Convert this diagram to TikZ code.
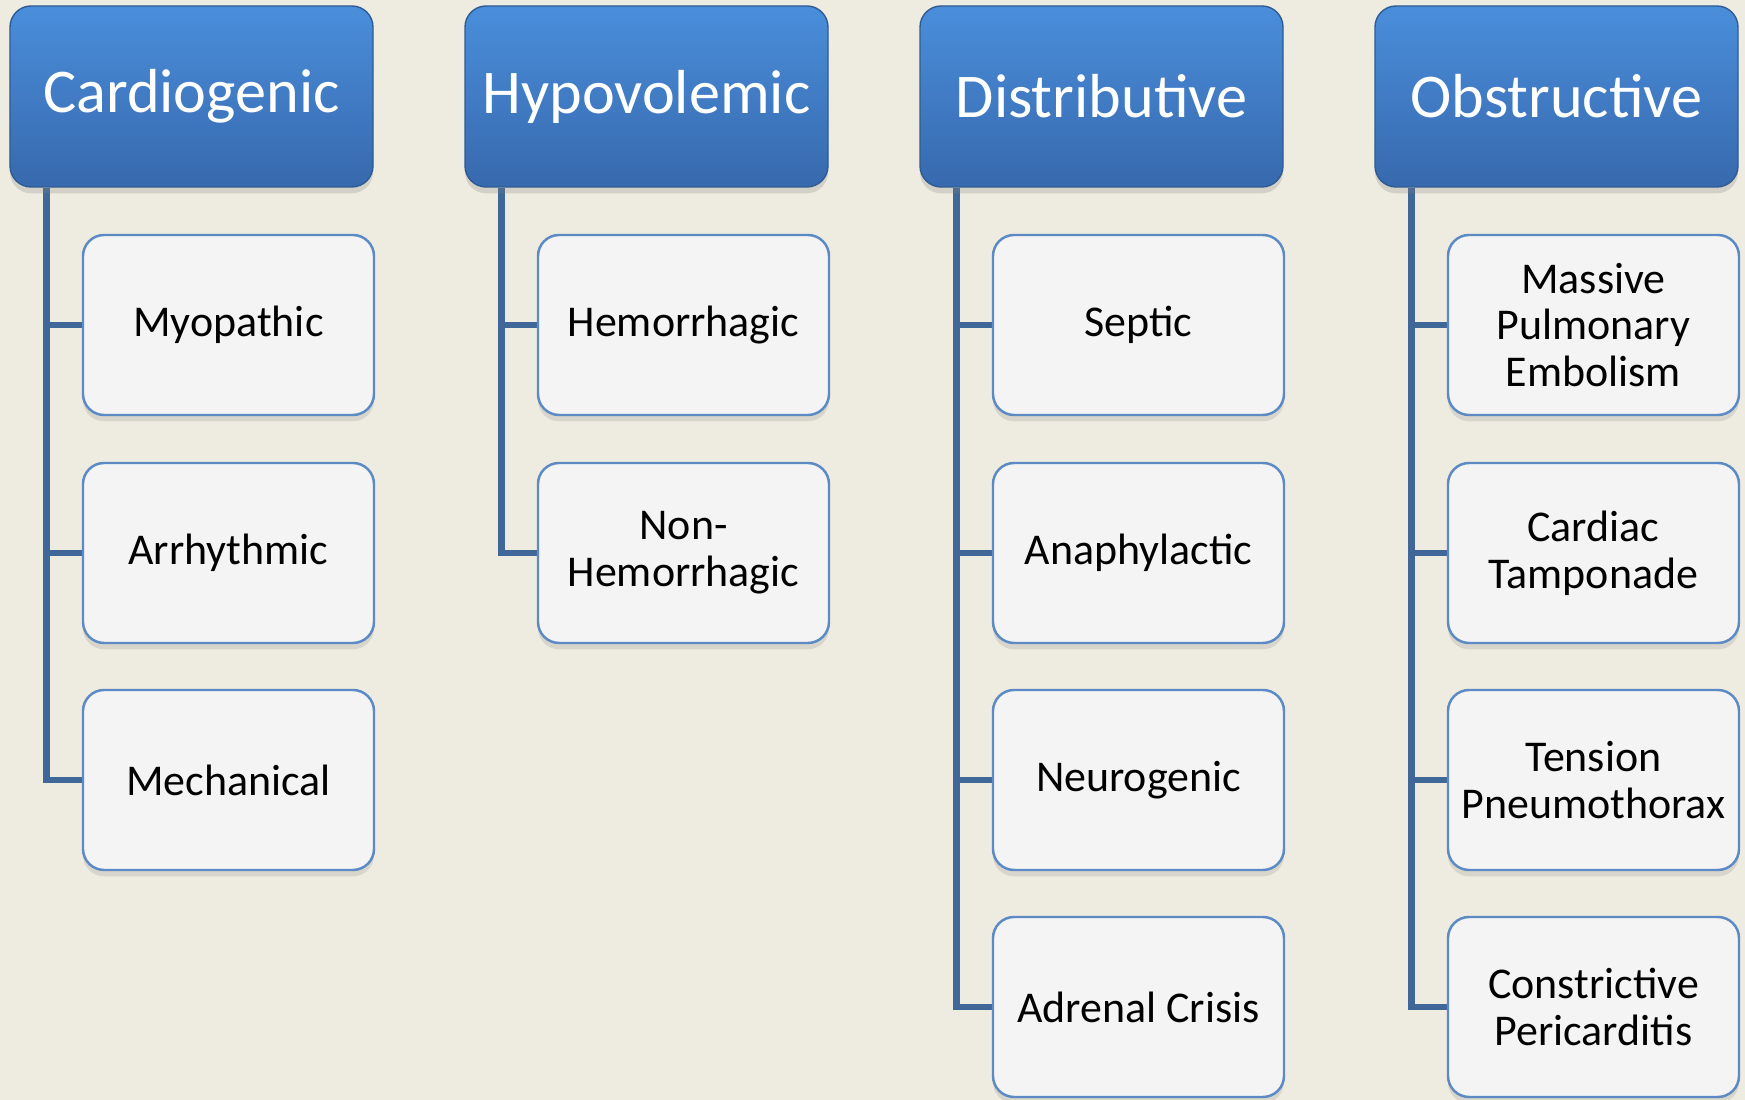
\documentclass[tikz,border=0pt]{standalone}
\usepackage{fontspec}
\setmainfont{Carlito}
\usetikzlibrary{calc,shadows,backgrounds}
\definecolor{paper}{HTML}{EEEBE0}
\definecolor{hdtop}{HTML}{4A8EDB}
\definecolor{hdbot}{HTML}{3769AD}
\definecolor{hdline}{HTML}{2F5C94}
\definecolor{busline}{HTML}{3F6898}
\definecolor{cell}{HTML}{F4F4F4}
\definecolor{cellline}{HTML}{5B8AC4}

\begin{document}
\begin{tikzpicture}[
  hdr/.style={rounded corners=6pt,draw=hdline,top color=hdtop,bottom color=hdbot,
    minimum width=3.63cm,minimum height=1.81cm,text=white,
    font=\fontsize{17.7}{20}\selectfont,
    drop shadow={shadow xshift=0pt,shadow yshift=-1.8pt,opacity=.25}},
  sub/.style={rounded corners=6pt,draw=cellline,line width=.7pt,fill=cell,
    minimum width=2.91cm,minimum height=1.80cm,align=center,
    font=\fontsize{12.5}{13.3}\selectfont,
    drop shadow={shadow xshift=0pt,shadow yshift=-1.8pt,opacity=.2}},
  link/.style={busline,line width=1.9pt}]
  \useasboundingbox (0,0) rectangle (17.45,11);
  \begin{scope}[on background layer]
    \fill[paper] (0,0) rectangle (17.45,11);
  \end{scope}

  % headers
  \node[hdr] (cardio) at (1.915,10.035) {Cardiogenic};
  \node[hdr] (hypo)   at (6.465,10.035) {Hypovolemic};
  \node[hdr] (distr)  at (11.015,10.035) {Distributive};
  \node[hdr] (obstr)  at (15.565,10.035) {Obstructive};

  % cardiogenic
  \node[sub] (myo)   at (2.285,7.75) {Myopathic};
  \node[sub] (arrhy) at (2.285,5.47) {Arrhythmic};
  \node[sub] (mech)  at (2.285,3.20) {Mechanical};

  % hypovolemic
  \node[sub] (hemo)    at (6.835,7.75) {Hemorrhagic};
  \node[sub] (nonhemo) at (6.835,5.47) {Non-\\Hemorrhagic};

  % distributive
  \node[sub] (septic)  at (11.385,7.75) {Septic};
  \node[sub] (anaph)   at (11.385,5.47) {Anaphylactic};
  \node[sub] (neuro)   at (11.385,3.20) {Neurogenic};
  \node[sub] (adrenal) at (11.385,0.93) {Adrenal Crisis};

  % obstructive
  \node[sub] (pe)      at (15.935,7.75) {Massive\\Pulmonary\\Embolism};
  \node[sub] (tamp)    at (15.935,5.47) {Cardiac\\Tamponade};
  \node[sub] (tension) at (15.935,3.20) {Tension\\Pneumothorax};
  \node[sub] (constr)  at (15.935,0.93) {Constrictive\\Pericarditis};

  \coordinate (cardio-bus) at ($(cardio.south west)+(0.37,0)$);
  \coordinate (hypo-bus)   at ($(hypo.south west)+(0.37,0)$);
  \coordinate (distr-bus)  at ($(distr.south west)+(0.37,0)$);
  \coordinate (obstr-bus)  at ($(obstr.south west)+(0.37,0)$);

  \begin{scope}[on background layer]
    \draw[link] (cardio-bus) |- (myo.west);
    \draw[link] (cardio-bus) |- (arrhy.west);
    \draw[link] (cardio-bus) |- (mech.west);
    \draw[link] (hypo-bus) |- (hemo.west);
    \draw[link] (hypo-bus) |- (nonhemo.west);
    \draw[link] (distr-bus) |- (septic.west);
    \draw[link] (distr-bus) |- (anaph.west);
    \draw[link] (distr-bus) |- (neuro.west);
    \draw[link] (distr-bus) |- (adrenal.west);
    \draw[link] (obstr-bus) |- (pe.west);
    \draw[link] (obstr-bus) |- (tamp.west);
    \draw[link] (obstr-bus) |- (tension.west);
    \draw[link] (obstr-bus) |- (constr.west);
  \end{scope}
\end{tikzpicture}
\end{document}
